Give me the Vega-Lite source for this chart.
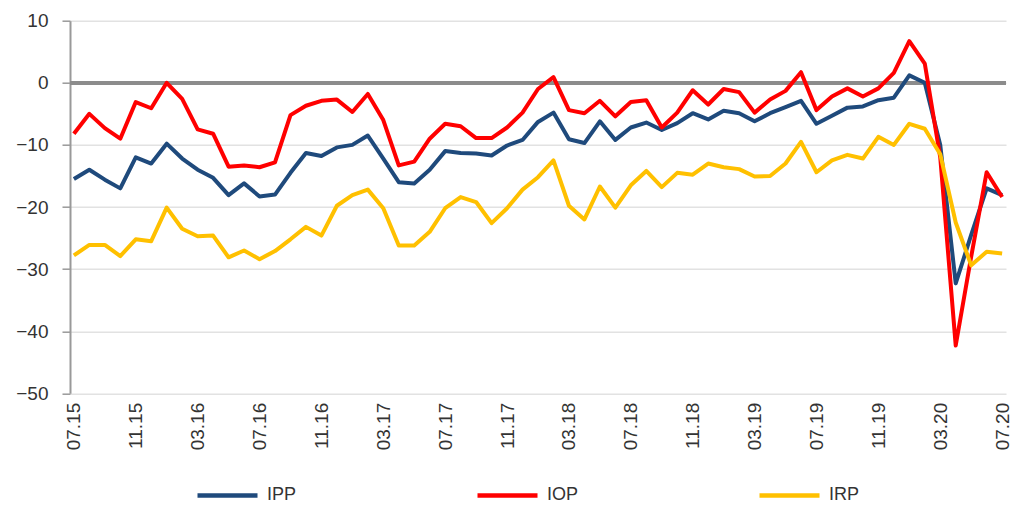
{
  "$schema": "https://vega.github.io/schema/vega-lite/v6.json",
  "width": 936,
  "height": 372.6,
  "autosize": {"type": "none"},
  "padding": {"left": 70, "top": 20.7, "right": 8, "bottom": 112.7},
  "background": "white",
  "config": {
    "font": "Liberation Sans",
    "view": {"stroke": null}
  },
  "data": {
    "values": [
      {"d": "07.15", "IPP": -15.5, "IOP": -8.2, "IRP": -27.8},
      {"d": "08.15", "IPP": -14.0, "IOP": -5.0, "IRP": -26.1},
      {"d": "09.15", "IPP": -15.6, "IOP": -7.3, "IRP": -26.1},
      {"d": "10.15", "IPP": -17.0, "IOP": -9.0, "IRP": -27.9},
      {"d": "11.15", "IPP": -12.0, "IOP": -3.1, "IRP": -25.2},
      {"d": "12.15", "IPP": -13.0, "IOP": -4.1, "IRP": -25.5},
      {"d": "01.16", "IPP": -9.8, "IOP": 0.0, "IRP": -20.1},
      {"d": "02.16", "IPP": -12.2, "IOP": -2.6, "IRP": -23.5},
      {"d": "03.16", "IPP": -14.0, "IOP": -7.5, "IRP": -24.7},
      {"d": "04.16", "IPP": -15.3, "IOP": -8.2, "IRP": -24.6},
      {"d": "05.16", "IPP": -18.1, "IOP": -13.5, "IRP": -28.1},
      {"d": "06.16", "IPP": -16.2, "IOP": -13.3, "IRP": -27.0},
      {"d": "07.16", "IPP": -18.3, "IOP": -13.6, "IRP": -28.4},
      {"d": "08.16", "IPP": -18.0, "IOP": -12.8, "IRP": -27.1},
      {"d": "09.16", "IPP": -14.5, "IOP": -5.2, "IRP": -25.2},
      {"d": "10.16", "IPP": -11.3, "IOP": -3.7, "IRP": -23.2},
      {"d": "11.16", "IPP": -11.8, "IOP": -2.9, "IRP": -24.6},
      {"d": "12.16", "IPP": -10.4, "IOP": -2.7, "IRP": -19.8},
      {"d": "01.17", "IPP": -10.0, "IOP": -4.7, "IRP": -18.1},
      {"d": "02.17", "IPP": -8.5, "IOP": -1.8, "IRP": -17.2},
      {"d": "03.17", "IPP": -12.2, "IOP": -6.0, "IRP": -20.2},
      {"d": "04.17", "IPP": -16.0, "IOP": -13.3, "IRP": -26.2},
      {"d": "05.17", "IPP": -16.2, "IOP": -12.7, "IRP": -26.2},
      {"d": "06.17", "IPP": -14.0, "IOP": -9.0, "IRP": -24.0},
      {"d": "07.17", "IPP": -11.0, "IOP": -6.6, "IRP": -20.2},
      {"d": "08.17", "IPP": -11.3, "IOP": -7.0, "IRP": -18.4},
      {"d": "09.17", "IPP": -11.4, "IOP": -8.9, "IRP": -19.2},
      {"d": "10.17", "IPP": -11.7, "IOP": -8.9, "IRP": -22.6},
      {"d": "11.17", "IPP": -10.1, "IOP": -7.2, "IRP": -20.2},
      {"d": "12.17", "IPP": -9.2, "IOP": -4.8, "IRP": -17.2},
      {"d": "01.18", "IPP": -6.3, "IOP": -1.0, "IRP": -15.2},
      {"d": "02.18", "IPP": -4.8, "IOP": 0.9, "IRP": -12.5},
      {"d": "03.18", "IPP": -9.1, "IOP": -4.4, "IRP": -19.8},
      {"d": "04.18", "IPP": -9.7, "IOP": -4.9, "IRP": -22.0},
      {"d": "05.18", "IPP": -6.2, "IOP": -2.9, "IRP": -16.7},
      {"d": "06.18", "IPP": -9.2, "IOP": -5.4, "IRP": -20.1},
      {"d": "07.18", "IPP": -7.2, "IOP": -3.1, "IRP": -16.5},
      {"d": "08.18", "IPP": -6.4, "IOP": -2.8, "IRP": -14.2},
      {"d": "09.18", "IPP": -7.6, "IOP": -7.2, "IRP": -16.8},
      {"d": "10.18", "IPP": -6.5, "IOP": -4.8, "IRP": -14.5},
      {"d": "11.18", "IPP": -4.9, "IOP": -1.2, "IRP": -14.8},
      {"d": "12.18", "IPP": -5.9, "IOP": -3.5, "IRP": -13.0},
      {"d": "01.19", "IPP": -4.5, "IOP": -1.0, "IRP": -13.6},
      {"d": "02.19", "IPP": -4.9, "IOP": -1.5, "IRP": -13.9},
      {"d": "03.19", "IPP": -6.2, "IOP": -4.8, "IRP": -15.1},
      {"d": "04.19", "IPP": -4.9, "IOP": -2.7, "IRP": -15.0},
      {"d": "05.19", "IPP": -3.9, "IOP": -1.3, "IRP": -13.0},
      {"d": "06.19", "IPP": -2.9, "IOP": 1.7, "IRP": -9.5},
      {"d": "07.19", "IPP": -6.6, "IOP": -4.4, "IRP": -14.4},
      {"d": "08.19", "IPP": -5.3, "IOP": -2.2, "IRP": -12.5},
      {"d": "09.19", "IPP": -4.0, "IOP": -0.9, "IRP": -11.6},
      {"d": "10.19", "IPP": -3.8, "IOP": -2.2, "IRP": -12.2},
      {"d": "11.19", "IPP": -2.8, "IOP": -0.9, "IRP": -8.7},
      {"d": "12.19", "IPP": -2.4, "IOP": 1.6, "IRP": -10.0},
      {"d": "01.20", "IPP": 1.2, "IOP": 6.7, "IRP": -6.6},
      {"d": "02.20", "IPP": 0.0, "IOP": 3.1, "IRP": -7.4},
      {"d": "03.20", "IPP": -10.0, "IOP": -12.0, "IRP": -11.5},
      {"d": "04.20", "IPP": -32.3, "IOP": -42.3, "IRP": -22.5},
      {"d": "05.20", "IPP": -24.5, "IOP": -28.0, "IRP": -29.4},
      {"d": "06.20", "IPP": -17.0, "IOP": -14.4, "IRP": -27.2},
      {"d": "07.20", "IPP": -18.1, "IOP": -18.4, "IRP": -27.5}
    ]
  },
  "layer": [
    {
      "mark": {"type": "rule", "color": "#8c8c8c", "strokeWidth": 3},
      "encoding": {
        "y": {
          "datum": 0,
          "type": "quantitative",
          "scale": {"domain": [-50, 10], "nice": false},
          "axis": {
            "title": null,
            "values": [-50, -40, -30, -20, -10, 0, 10],
            "grid": true,
            "labelFontSize": 19,
            "labelColor": "#333333",
            "labelPadding": 14,
            "tickSize": 8,
            "tickColor": "#999999",
            "tickWidth": 1.5,
            "domainColor": "#999999",
            "domainWidth": 2,
            "gridColor": "#e2e2e2",
            "gridWidth": 1.5
          }
        }
      }
    },
    {
      "transform": [{"fold": ["IPP", "IOP", "IRP"], "as": ["series", "value"]}],
      "mark": {"type": "line", "strokeWidth": 4, "strokeJoin": "round"},
      "encoding": {
        "x": {
          "field": "d",
          "type": "ordinal",
          "sort": null,
          "scale": {"type": "point", "padding": 0.25},
          "axis": {
            "title": null,
            "values": ["07.15", "11.15", "03.16", "07.16", "11.16", "03.17", "07.17", "11.17", "03.18", "07.18", "11.18", "03.19", "07.19", "11.19", "03.20", "07.20"],
            "labelAngle": -90,
            "labelFontSize": 19,
            "labelColor": "#333333",
            "labelPadding": 9,
            "domain": false,
            "ticks": false,
            "grid": false
          }
        },
        "y": {
          "field": "value",
          "type": "quantitative",
          "scale": {"domain": [-50, 10], "nice": false},
          "axis": {
            "title": null,
            "values": [-50, -40, -30, -20, -10, 0, 10],
            "grid": true,
            "labelFontSize": 19,
            "labelColor": "#333333",
            "labelPadding": 14,
            "tickSize": 8,
            "tickColor": "#999999",
            "tickWidth": 1.5,
            "domainColor": "#999999",
            "domainWidth": 2,
            "gridColor": "#e2e2e2",
            "gridWidth": 1.5
          }
        },
        "color": {
          "field": "series",
          "type": "nominal",
          "sort": ["IPP", "IOP", "IRP"],
          "scale": {"domain": ["IPP", "IOP", "IRP"], "range": ["#1f4a7c", "#ff0000", "#ffc000"]},
          "legend": {
            "title": null,
            "orient": "none",
            "direction": "horizontal",
            "legendX": 125,
            "legendY": 442,
            "padding": 0,
            "symbolType": "stroke",
            "symbolSize": 3600,
            "symbolStrokeWidth": 4.5,
            "labelFontSize": 18,
            "labelColor": "#333333",
            "labelOffset": 7,
            "columnPadding": 171
          }
        }
      }
    }
  ]
}
